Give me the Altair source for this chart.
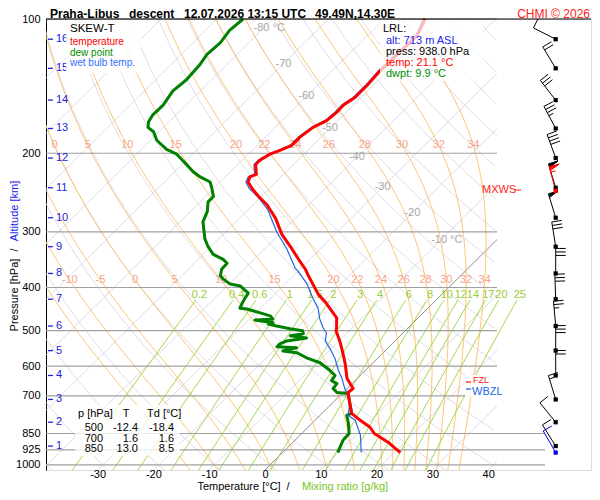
import numpy as np
import pandas as pd
import altair as alt

FONT = "Liberation Sans"

# ---------------- profile values ----------------
TEMP_P = [100, 109, 131, 141, 150, 156, 162, 169, 175, 184, 192, 197, 201, 207, 212, 223, 226, 232, 240, 250,
          261, 280, 304, 327, 344, 364, 377, 414, 434, 468, 493, 500, 527, 563, 593, 640, 674, 688, 700, 728,
          766, 794, 823, 850, 893, 938]
TEMP_T = [-52.7, -51.1, -51.4, -51.1, -51.1, -51.8, -51.7, -52.0, -53.2, -53.8, -53.8, -55.0, -56.1, -56.8, -56.8,
          -54.9, -55.6, -55.0, -53.1, -50.5, -47.5, -43.5, -39.5, -35.2, -32.3, -29.0, -27.2, -22.2, -19.1, -14.6,
          -12.8, -12.4, -9.9, -7.0, -4.8, -1.8, 1.1, 0.9, 1.6, 3.2, 5.3, 8.1, 11.1, 13.0, 17.4, 21.1]

DEW_P = [100, 106, 113, 120, 127, 137, 145, 156, 164, 170, 175, 179, 187, 196, 201, 207, 211, 220, 226, 232,
         240, 250, 257, 270, 285, 311, 324, 337, 346, 353, 364, 377, 383, 393, 397, 412, 423, 436, 445, 447,
         456, 463, 471, 473, 480, 483, 488, 495, 500, 508, 513, 519, 527, 535, 543, 546, 555, 560, 575, 590,
         614, 630, 647, 657, 674, 688, 691, 700, 728, 766, 774, 806, 850, 880, 938]
DEW_T = [-85.3, -85.7, -85.1, -85.4, -84.8, -84.5, -84.9, -84.1, -84.2, -83.7, -82.8, -81.0, -78.9, -75.5, -72.8,
         -70.8, -69.5, -66.7, -64.5, -61.8, -60.3, -58.6, -58.6, -57.0, -55.9, -52.5, -50.5, -48.2, -45.5, -44.1,
         -44.0, -43.0, -41.9, -39.8, -37.6, -34.9, -34.6, -34.1, -33.7, -32.3, -29.2, -26.9, -25.8, -28.9, -25.1,
         -25.8, -23.9, -21.0, -18.4, -17.7, -19.7, -16.4, -19.4, -20.1, -20.1, -16.4, -18.3, -15.5, -12.8, -9.5,
         -6.3, -4.5, -4.2, -2.7, -2.5, -1.1, 1.1, 1.6, 3.2, 5.3, 4.8, 6.5, 8.5, 8.6, 9.9]

WB_P = [100, 109, 131, 141, 150, 156, 162, 169, 175, 184, 192, 197, 201, 207, 212, 223, 226, 232, 240, 250,
        268, 300, 327, 362, 368, 393, 423, 445, 471, 493, 506, 527, 549, 578, 614, 640, 674, 688, 700, 728,
        774, 794, 857, 938]
WB_T = [-53.0, -51.4, -51.7, -51.4, -51.4, -52.1, -52.0, -52.3, -53.5, -54.1, -54.1, -55.3, -56.4, -57.1, -57.1,
        -55.2, -55.9, -55.4, -53.6, -50.7, -46.4, -40.9, -36.1, -31.0, -29.9, -26.0, -22.4, -19.7, -17.4, -15.2,
        -13.7, -12.5, -10.2, -7.5, -4.8, -2.7, -0.4, 0.7, 1.6, 3.2, 5.0, 7.2, 10.8, 14.1]

# altitude scale (km -> pressure)
ALT_KM = [1, 2, 3, 4, 5, 6, 7, 8, 9, 10, 11, 12, 13, 14, 15, 16]
ALT_P = [907, 802, 713, 630, 554, 488, 425, 372, 324, 279, 239, 205, 176, 152, 129, 111]

# winds
WIND_P = [938, 907, 802, 713, 630, 554, 488, 425, 372, 324, 279, 239, 205, 176, 152, 129, 111]
WIND_DIR = [330, 328, 321, 343, 360, 360, 355, 358, 360, 351, 343, 343, 340, 332, 322, 329, 297]
WIND_KT = [10, 10, 10, 15, 20, 30, 25, 30, 30, 30, 50, 50, 40, 35, 30, 20, 10]
WIND_KIND = ["lrl"] + ["std"] * 16
MXWS_P, MXWS_DIR, MXWS_KT = 243, 345, 55

# tables / info
TAB_P = [500, 700, 850]
TAB_T = [-12.4, 1.6, 13.0]
TAB_TD = [-18.4, 1.6, 8.5]
LRL_ALT, LRL_PRESS, LRL_TEMP, LRL_DWPT = 713, 938.0, 21.1, 9.9

# grid definitions
ISOBARS = [100, 200, 300, 400, 500, 600, 700, 850, 925, 1000]
ISOTHERMS = list(range(-120, 50, 10))
DRY_THETA_C = list(range(-40, 190, 10))
THETA_W = [-15, -10, -5, 0, 5, 10, 15, 20, 22, 24, 26, 28, 30, 32, 34]
THETA_W_ROW1 = [0, 5, 10, 15, 20, 22, 24, 26, 28, 30, 32, 34]
MIX_R = [0.2, 0.4, 0.6, 1, 1.5, 2, 3, 4, 6, 8, 10, 12, 14, 17, 20, 25]
MIX_LABELS = ["0.2", "0.4", "0.6", "1", "1.5", "2", "3", "4", "6", "8", "10", "12", "14", "17", "20", "25"]
ISO_LABEL_T = [-80, -70, -60, -50, -40, -30, -20, -10]
ISO_LABEL_P = [105, 126, 149, 176, 204, 238, 272, 313]
ROW1_P, ROW2_P, MIX_LABEL_P, MIX_TOP_P = 192, 385, 416, 427

# ---------------- geometry ----------------
P_TOP, P_BOT = 100.0, 1026.3
PLOT_W, PLOT_H = 545, 451
OX, OY = 46, 19
PX_PER_C = 5.58
X0_PX = 265
X_MIN = (OX - X0_PX) / PX_PER_C
X_MAX = X_MIN + PLOT_W / PX_PER_C
K = 34.95
PY = PLOT_H / np.log(P_BOT / P_TOP)
X_R = (497 - X0_PX) / PX_PER_C
X_R2 = (545 - X0_PX) / PX_PER_C
X_BARB = (555.7 - X0_PX) / PX_PER_C
RD, CPD, LV, EPS = 287.04, 1005.7, 2.501e6, 0.622


def skew(T, p):
    return np.asarray(T, float) + K * np.log(P_BOT / np.asarray(p, float))


def es(tc):
    return 6.112 * np.exp(17.67 * tc / (tc + 243.5))


def dtdlnp(tk, p):
    tc = tk - 273.15
    e = es(tc)
    r = EPS * e / (p - e)
    return (RD * tk + LV * r) / (CPD + LV * LV * r * EPS / (RD * tk * tk))


def integrate(t0, lnp):
    out = [t0]
    t = t0
    for a, b in zip(lnp[:-1], lnp[1:]):
        h = b - a
        pa, pm, pb = np.exp(a), np.exp(a + h / 2), np.exp(b)
        k1 = dtdlnp(t, pa)
        k2 = dtdlnp(t + h / 2 * k1, pm)
        k3 = dtdlnp(t + h / 2 * k2, pm)
        k4 = dtdlnp(t + h * k3, pb)
        t = t + h / 6 * (k1 + 2 * k2 + 2 * k3 + k4)
        out.append(t)
    return np.array(out)


def moist_curve(tw):
    up = np.linspace(np.log(1000.0), np.log(P_TOP), 240)
    dn = np.linspace(np.log(1000.0), np.log(P_BOT), 8)
    tu = integrate(tw + 273.15, up)
    td = integrate(tw + 273.15, dn)
    lnp = np.concatenate([dn[::-1], up[1:]])
    tk = np.concatenate([td[::-1], tu[1:]])
    return np.exp(lnp), tk - 273.15


def clipped(cid, p, X, xmax):
    m = (X >= X_MIN - 3) & (X <= xmax)
    idx = np.arange(len(p))[m]
    return pd.DataFrame({"cid": cid, "i": idx, "p": np.round(p[m], 2), "X": np.round(X[m], 3)})


PG = np.exp(np.linspace(np.log(P_TOP), np.log(P_BOT), 240))

# dry adiabats
dry = pd.concat([clipped(f"d{th}", PG, skew((th + 273.15) * (PG / 1000.0) ** (RD / CPD) - 273.15, PG), X_R)
                 for th in DRY_THETA_C])

# isotherms (straight lines in skew coordinates)
iso_rows = []
for T in ISOTHERMS:
    pe = max(P_TOP, P_BOT * np.exp(-(X_R - T) / K))
    for j, pp in enumerate([P_BOT, pe]):
        iso_rows.append({"cid": f"t{T}", "i": j, "p": pp, "X": float(skew(T, pp))})
iso = pd.DataFrame(iso_rows)
iso_other = iso[iso.cid != "t0"]
iso_zero = iso[iso.cid == "t0"]

# moist adiabats
moist_list, row1, row2 = [], [], []
for tw in THETA_W:
    pm, tm = moist_curve(tw)
    Xm = skew(tm, pm)
    moist_list.append(clipped(f"m{tw}", pm, Xm, X_R))
    order = np.argsort(pm)
    x1 = float(np.interp(ROW1_P, pm[order], Xm[order]))
    x2 = float(np.interp(ROW2_P, pm[order], Xm[order]))
    if tw in THETA_W_ROW1 and X_MIN + 1 <= x1 <= X_R:
        row1.append({"p": ROW1_P, "X": x1, "txt": str(tw)})
    if X_MIN + 3.5 <= x2 <= X_R:
        row2.append({"p": ROW2_P, "X": x2, "txt": str(tw)})
moist = pd.concat(moist_list)
moist_lab = pd.DataFrame(row1 + row2)

# mixing-ratio lines
PM = np.exp(np.linspace(np.log(MIX_TOP_P), np.log(P_BOT), 30))
mix_list, mix_lab = [], []
for w, lab in zip(MIX_R, MIX_LABELS):
    e = w * PM / (622.0 + w)
    le = np.log(e / 6.112)
    tc = 243.5 * le / (17.67 - le)
    mix_list.append(pd.DataFrame({"cid": f"w{w}", "i": np.arange(len(PM)), "p": PM, "X": skew(tc, PM)}))
    e0 = w * MIX_LABEL_P / (622.0 + w)
    l0 = np.log(e0 / 6.112)
    mix_lab.append({"p": MIX_LABEL_P, "X": float(skew(243.5 * l0 / (17.67 - l0), MIX_LABEL_P)), "txt": lab})
mix = pd.concat(mix_list)
mix_lab = pd.DataFrame(mix_lab)

iso_lab = pd.DataFrame({"p": ISO_LABEL_P, "X": skew(ISO_LABEL_T, ISO_LABEL_P),
                        "txt": [str(t) for t in ISO_LABEL_T]})
iso_lab_mid = iso_lab.iloc[1:-1]
iso_lab_end = iso_lab.iloc[[0, -1]].copy()
iso_lab_end["txt"] = iso_lab_end["txt"] + " °C"

isobar_df = pd.DataFrame({"p": ISOBARS, "x1": X_MIN, "x2": [X_R2 if p >= 850 else X_R for p in ISOBARS]})


def profile(P, T):
    return pd.DataFrame({"i": np.arange(len(P)), "p": P, "X": skew(T, P)})


temp_df, dew_df, wb_df = profile(TEMP_P, TEMP_T), profile(DEW_P, DEW_T), profile(WB_P, WB_T)
alt_df = pd.DataFrame({"p": ALT_P, "km": [str(k) for k in ALT_KM]})

# wind barbs
segs, dots = [], []


def to_data(p0, dx, dy):
    return X_BARB + dx / PX_PER_C, p0 * np.exp(dy / PY)


def barb(p0, d, kt, col):
    L, FL, SP = 25.0, 10.0, 3.5
    r = np.radians(d)
    sx, sy = np.sin(r), -np.cos(r)
    fx, fy = np.cos(r), np.sin(r)

    def seg(a, b):
        xa, pa = to_data(p0, *a)
        xb, pb = to_data(p0, *b)
        segs.append({"x": xa, "p": pa, "x2": xb, "p2": pb, "c": col})

    seg((0, 0), (L * sx, L * sy))
    n50, rem = divmod(int(kt), 50)
    n10, rem = divmod(rem, 10)
    n5 = 1 if rem >= 5 else 0
    pos = L
    for _ in range(n50):
        apex = (pos * sx + FL * fx, pos * sy + FL * fy)
        for f in np.linspace(0, 1, 6):
            q = pos - 4 * f
            seg((q * sx, q * sy), apex)
        pos -= 5.5
    for _ in range(n10):
        seg((pos * sx, pos * sy), (pos * sx + FL * fx, pos * sy + FL * fy))
        pos -= SP
    for _ in range(n5):
        seg((pos * sx, pos * sy), (pos * sx + FL / 2 * fx, pos * sy + FL / 2 * fy))
    dots.append({"x": X_BARB, "p": p0, "c": col})


for p0, d, kt, kind in zip(WIND_P, WIND_DIR, WIND_KT, WIND_KIND):
    barb(p0, d, kt, "#0000ee" if kind == "lrl" else "black")
barb(MXWS_P, MXWS_DIR, MXWS_KT, "#ff0000")
seg_df, dot_df = pd.DataFrame(segs), pd.DataFrame(dots)

# ---------------- encodings ----------------
XS = alt.Scale(domain=[X_MIN, X_MAX], nice=False, zero=False)
YS = alt.Scale(type="log", domain=[P_TOP, P_BOT], reverse=True, nice=False, zero=False)
XAX = alt.Axis(values=list(range(-30, 41, 10)), title=None, domain=False, ticks=False, grid=False,
               labelPadding=-2, labelFontSize=11, labelFont=FONT, labelColor="black",
               labelExpr="'' + datum.value")
YAX = alt.Axis(values=ISOBARS, title=None, domain=True, domainColor="black", domainWidth=1, ticks=False,
               grid=False, labelPadding=6, labelFontSize=11, labelFont=FONT, labelColor="black",
               labelExpr="'' + datum.value")


def xe(f="X"):
    return alt.X(f"{f}:Q", scale=XS, axis=XAX)


def ye(f="p"):
    return alt.Y(f"{f}:Q", scale=YS, axis=YAX)


def curves(df, color, width=0.8, opacity=1.0):
    return alt.Chart(df).mark_line(color=color, strokeWidth=width, opacity=opacity, clip=True).encode(
        x=xe(), y=ye(), detail="cid:N", order="i:Q")


def labels(df, color, size=11, dx=0):
    return alt.Chart(df).mark_text(color=color, fontSize=size, font=FONT, baseline="middle", dx=dx).encode(
        x=xe(), y=ye(), text="txt:N")


ONE = alt.Data(values=[{"k": 0}])


def txt(s, px, py, color="black", size=11, align="left", baseline="middle", weight="normal", angle=0):
    return alt.Chart(ONE).mark_text(text=s, color=color, fontSize=size, align=align, baseline=baseline,
                                    fontWeight=weight, angle=angle, font=FONT).encode(
        x=alt.value(px - OX), y=alt.value(py - OY))


def box(x1, y1, x2, y2, opacity=0.72):
    return alt.Chart(ONE).mark_rect(color="white", opacity=opacity).encode(
        x=alt.value(x1 - OX), x2=alt.value(x2 - OX), y=alt.value(y1 - OY), y2=alt.value(y2 - OY))


def hline(x1, x2, py, color, width=1.0):
    return alt.Chart(ONE).mark_rule(color=color, strokeWidth=width).encode(
        x=alt.value(x1 - OX), x2=alt.value(x2 - OX), y=alt.value(py - OY))


layers = [
    curves(dry, "#d3d3dd", 0.8),
    curves(iso_other, "#d3d3dd", 0.8),
    curves(iso_zero, "#6e6e6e", 0.8),
    curves(moist, "#ffbb5c", 0.9),
    curves(mix, "#9ad13a", 0.9),
    alt.Chart(isobar_df).mark_rule(color="#a0a0a0", strokeWidth=1.2).encode(
        x=xe("x1"), x2=alt.X2("x2:Q"), y=ye()),
    labels(moist_lab, "#f5a38f"),
    labels(mix_lab, "#99cc33"),
    labels(iso_lab_mid, "#a8a8a8"),
    labels(iso_lab_end, "#a8a8a8", dx=6),
    alt.Chart(alt_df).mark_rule(color="#2222dd", strokeWidth=1.3).encode(
        y=ye(), x=alt.value(2), x2=alt.value(7)),
    alt.Chart(alt_df).mark_text(color="#2222dd", fontSize=11, font=FONT, align="left",
                                baseline="middle").encode(y=ye(), x=alt.value(10), text="km:N"),
    alt.Chart(dew_df).mark_line(color="#008000", strokeWidth=3, strokeJoin="round").encode(
        x=xe(), y=ye(), order="i:Q"),
    alt.Chart(wb_df).mark_line(color="#2266e8", strokeWidth=1.2, strokeJoin="round").encode(
        x=xe(), y=ye(), order="i:Q"),
    alt.Chart(temp_df).mark_line(color="#ff0000", strokeWidth=3, strokeJoin="round").encode(
        x=xe(), y=ye(), order="i:Q"),
    # top border
    hline(46, 591, 19, "black", 1.2),
    # legend box
    box(66, 20, 141, 73, 0.8),
    txt("SKEW-T", 70, 29, size=11.5),
    txt("temperature", 70, 42, "#ff0000", 10),
    txt("dew point", 70, 52.5, "#009000", 10),
    txt("wet bulb temp.", 70, 63, "#3070ff", 10),
    # LRL box
    box(380, 20, 483, 81, 0.72),
    txt("LRL:", 383, 29),
    txt(f"alt: {LRL_ALT} m ASL", 386, 41, "#2222ee"),
    txt(f"press: {LRL_PRESS:.1f} hPa", 386, 52),
    txt(f"temp: {LRL_TEMP:.1f} °C", 386, 63, "#ff0000"),
    txt(f"dwpt: {LRL_DWPT:.1f} °C", 386, 74, "#009000"),
    # table box
    box(75, 405, 180, 456, 0.78),
    txt("p [hPa]", 78, 414),
    txt("T", 126, 414, align="center"),
    txt("Td [°C]", 147, 414),
]
for k, (pp, tt, dd) in enumerate(zip(TAB_P, TAB_T, TAB_TD)):
    yy = 428 + 10.7 * k
    layers += [txt(str(pp), 103, yy, align="right"), txt(f"{tt:.1f}", 138, yy, align="right"),
               txt(f"{dd:.1f}", 174, yy, align="right")]

layers += [
    # wind barbs
    alt.Chart(seg_df).mark_rule(strokeWidth=1).encode(
        x=xe("x"), x2=alt.X2("x2:Q"), y=ye(), y2=alt.Y2("p2:Q"), color=alt.Color("c:N", scale=None)),
    alt.Chart(dot_df).mark_square(size=18, opacity=1, filled=True).encode(
        x=xe("x"), y=ye(), color=alt.Color("c:N", scale=None)),
    # annotations
    txt("MXWS", 482, 190, "#ff2020"),
    hline(515, 521, 190, "#ff2020"),
    box(465, 375, 508, 397, 0.85),
    txt("FZL", 473, 379.5, "#ff2020", 9),
    hline(466, 471, 382, "#ff2020", 1.3),
    box(471, 385, 508, 397, 0.95),
    txt("WBZL", 472, 391.5, "#2266e8"),
    hline(466, 471, 389, "#2266e8", 1.3),
    # titles
    txt("Praha-Libus", 50, 17.5, size=12, baseline="alphabetic", weight="bold"),
    txt("descent", 129, 17.5, size=12, baseline="alphabetic", weight="bold"),
    txt("12.07.2026 13:15 UTC", 184, 17.5, size=12, baseline="alphabetic", weight="bold"),
    txt("49.49N,14.30E", 315, 17.5, size=12, baseline="alphabetic", weight="bold"),
    txt("CHMI © 2026", 590, 17.5, "#ff2020", 12, align="right", baseline="alphabetic"),
    txt("Pressure [hPa]", 15, 295, angle=270, align="center"),
    txt("/", 15, 250, angle=270, align="center"),
    txt("Altitude [km]", 15, 211, "#2222ee", angle=270, align="center"),
    txt("Temperature [°C]", 239, 490, align="center", baseline="alphabetic"),
    txt("/", 288, 490, align="center", baseline="alphabetic"),
    txt("Mixing ratio [g/kg]", 345, 490, "#77c522", align="center", baseline="alphabetic"),
]

chart = alt.layer(*layers).properties(
    width=PLOT_W, height=PLOT_H,
    autosize=alt.AutoSizeParams(type="none"),
    padding={"left": 38, "top": 11, "right": 1, "bottom": 22},
).configure_view(fill="#f0f0fb", stroke=None).configure(background="white")

chart.save("out.html", embed_options={"renderer": "svg", "actions": False})
